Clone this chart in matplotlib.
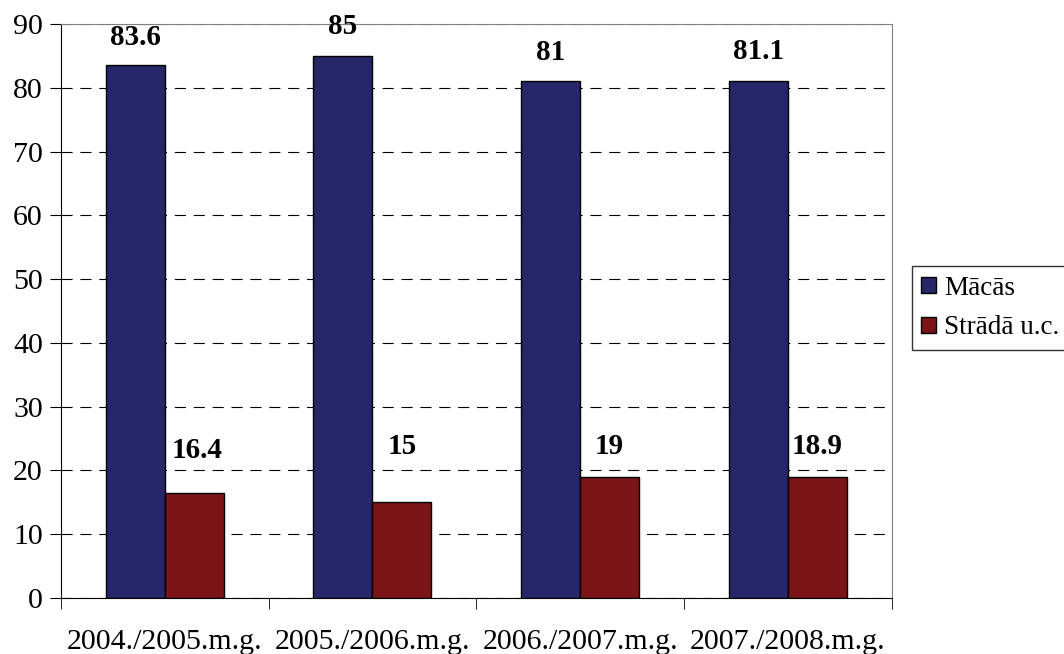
import matplotlib.pyplot as plt
import numpy as np

plt.rcParams['font.family'] = ['Liberation Serif', 'DejaVu Serif']
plt.rcParams['font.size'] = 21.5

years = ["2004./2005.m.g.", "2005./2006.m.g.", "2006./2007.m.g.", "2007./2008.m.g."]
macas = [83.6, 85, 81, 81.1]
strada = [16.4, 15, 19, 18.9]
labels_macas = ["83.6", "85", "81", "81.1"]
labels_strada = ["16.4", "15", "19", "18.9"]

blue = "#262668"
red = "#7b1416"

fig = plt.figure(figsize=(10.64, 6.54), dpi=100)
ax = fig.add_axes([0.0573, 0.0856, 0.7807, 0.8777])

x = np.arange(len(years))
w = 0.284
b1 = ax.bar(x - w/2, macas, w, color=blue, edgecolor="black", linewidth=1, label="Mācās", zorder=3)
b2 = ax.bar(x + w/2, strada, w, color=red, edgecolor="black", linewidth=1, label="Strādā u.c.", zorder=3)

# label offsets in points
off_m = [20, 21, 21, 21]
off_s = [31, 40, 22, 22]
for i in range(len(years)):
    ax.annotate(labels_macas[i], (x[i] - w/2, macas[i]), xytext=(0, off_m[i]),
                textcoords="offset points", ha="center", va="center",
                fontweight="bold", fontsize=21)
    ax.annotate(labels_strada[i], (x[i] + w/2, strada[i]), xytext=(2 if i == 0 else 0, off_s[i]),
                textcoords="offset points", ha="center", va="center",
                fontweight="bold", fontsize=21)

ax.set_xlim(-0.5, len(years) - 0.5)
ax.set_ylim(0, 90)
ax.set_yticks(np.arange(0, 91, 10))
ax.yaxis.grid(True, color="black", linestyle=(0, (10, 7)), linewidth=0.8)
ax.set_axisbelow(True)

ax.set_xticks(x)
ax.set_xticklabels(years)
ax.set_xticks(np.arange(-0.5, len(years), 1), minor=True)
ax.tick_params(axis="x", which="major", length=0, pad=22)
ax.tick_params(axis="x", which="minor", length=8, direction="out")
ax.tick_params(axis="y", length=8, direction="out", pad=5)

ax.spines["top"].set_color("#808080")
ax.spines["right"].set_color("#808080")
ax.spines["left"].set_color("black")
ax.spines["bottom"].set_color("black")

leg = fig.legend(handles=[b1, b2], loc="center left", bbox_to_anchor=(0.857, 0.529),
                 frameon=True, fancybox=False, edgecolor="black", handlelength=0.55,
                 handleheight=0.55, handletextpad=0.3, borderpad=0.35, labelspacing=0.55,
                 borderaxespad=0, fontsize=19.5)
leg.get_frame().set_linewidth(1)

fig.savefig("out.png", dpi=100)
